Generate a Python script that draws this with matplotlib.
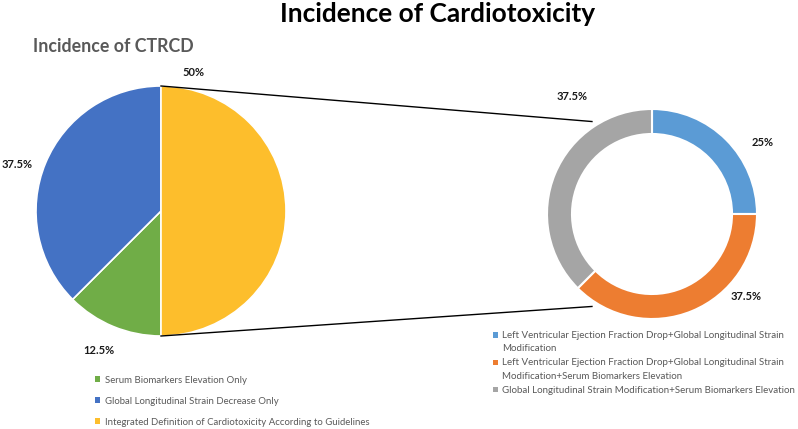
import matplotlib
matplotlib.use("Agg")
import matplotlib.pyplot as plt
import numpy as np

plt.rcParams["font.family"] = ["Lato", "DejaVu Sans"]

W, H = 798, 429

# main pie
main_labels = [
    "Serum Biomarkers Elevation Only",
    "Global Longitudinal Strain Decrease Only",
    "Integrated Definition of Cardiotoxicity According to Guidelines",
]
main_values = [12.5, 37.5, 50]
main_colors = ["#70AD47", "#4472C4", "#FDBE2C"]

# breakdown of the integrated slice
sub_labels = [
    "Left Ventricular Ejection Fraction Drop+Global Longitudinal Strain\nModification",
    "Left Ventricular Ejection Fraction Drop+Global Longitudinal Strain\nModification+Serum Biomarkers Elevation",
    "Global Longitudinal Strain Modification+Serum Biomarkers Elevation",
]
sub_values = [25, 37.5, 37.5]
sub_colors = ["#5B9BD5", "#ED7D31", "#A5A5A5"]


def px(x, y):
    # image pixel coords (y down) -> data coords (y up)
    return x, H - y


fig = plt.figure(figsize=(W / 100, H / 100), dpi=100)
ax = fig.add_axes([0, 0, 1, 1])

pie_c = px(161, 211)
pie_r = 125
wedges1, _ = ax.pie(main_values, colors=main_colors, startangle=270,
                    counterclock=False, center=pie_c, radius=pie_r,
                    wedgeprops=dict(edgecolor="white", linewidth=1.2))

don_c = px(652, 214)
don_r = 105
wedges2, _ = ax.pie(sub_values, colors=sub_colors, startangle=90,
                    counterclock=False, center=don_c, radius=don_r,
                    wedgeprops=dict(width=25, edgecolor="white", linewidth=1.5))

ax.set_xlim(0, W)
ax.set_ylim(0, H)
ax.set_aspect("equal")
ax.axis("off")

# connector lines: top/bottom of the pie to the donut
for pie_ang, don_ang in [(90, 123), (270, 237)]:
    x0 = pie_c[0] + pie_r * np.cos(np.radians(pie_ang))
    y0 = pie_c[1] + pie_r * np.sin(np.radians(pie_ang))
    x1 = don_c[0] + don_r * 1.05 * np.cos(np.radians(don_ang))
    y1 = don_c[1] + don_r * 1.05 * np.sin(np.radians(don_ang))
    ax.plot([x0, x1], [y0, y1], color="black", lw=1.0)

lab_kw = dict(fontsize=8, fontweight="bold", color="#1a1a1a",
              ha="center", va="center")
for v, pos in zip(main_values, [(99, 351), (17, 165), (193, 73)]):
    ax.text(*px(*pos), f"{v:g}%", **lab_kw)
for v, pos in zip(sub_values, [(763, 143), (746, 296), (572, 97)]):
    ax.text(*px(*pos), f"{v:g}%", **lab_kw)

fig.text(438 / W, 1 - 14 / H, "Incidence of Cardiotoxicity", fontsize=18.9,
         fontweight="bold", color="black", ha="center", va="center")
fig.text(33 / W, 1 - 46 / H, "Incidence of CTRCD", fontsize=12.8,
         fontweight="bold", color="#595959", ha="left", va="center")

leg1 = fig.legend(wedges1, main_labels, loc="upper left",
                  bbox_to_anchor=(86 / W, 1 - 367 / H), frameon=False,
                  fontsize=6.9, labelcolor="#595959", handlelength=0.55,
                  handleheight=0.55, handletextpad=0.5, labelspacing=1.25)
leg2 = fig.legend(wedges2, sub_labels, loc="upper left",
                  bbox_to_anchor=(486 / W, 1 - 324 / H), frameon=False,
                  fontsize=7.0, labelcolor="#595959", handlelength=0.55,
                  handleheight=0.55, handletextpad=0.4, labelspacing=0.55,
                  borderpad=0.2)
for leg in (leg1, leg2):
    for h in leg.legend_handles:
        h.set_edgecolor("none")
for t in leg2.get_texts():
    t.set_linespacing(1.6)
# put the marker beside the first line of wrapped entries
for h, lab in zip(leg2.legend_handles, sub_labels):
    if "\n" in lab:
        h.set_y(h.get_y() + 5.0)

fig.savefig("out.png", dpi=100)
